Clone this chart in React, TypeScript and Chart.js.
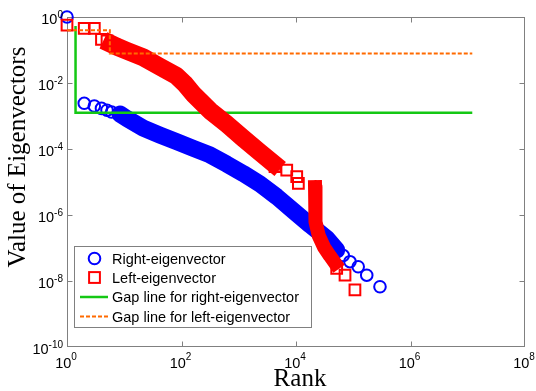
import React, { useEffect, useRef } from 'react';
import { Chart, registerables } from 'chart.js';
Chart.register(...registerables);

// Axis tick exponents (labels are 10^n)
const xTickExponents = [0, 2, 4, 6, 8];
const yTickExponents = [0, -2, -4, -6, -8, -10];

// Right-eigenvector: isolated markers
const rightRank = [1, 2, 3, 4, 5, 6, 8.4, 67000, 87700, 122000, 172000, 293000];
const rightValue = [1.0, 2.43e-3, 2.0e-3, 1.7e-3, 1.5e-3, 1.32e-3, 1.15e-3, 5.9e-8, 3.85e-8, 2.7e-8, 1.5e-8, 6.7e-9];
// Right-eigenvector: dense run of markers (centre line)
const rightBandRank = [8.4, 11, 21.5, 42, 82, 161, 315, 616, 1200, 2350, 4600, 8950, 17600, 34400, 51600];
const rightBandValue = [1.15e-3, 8.5e-4, 4.3e-4, 2.65e-4, 1.66e-4, 1.05e-4, 6.6e-5, 3.5e-5, 1.8e-5, 8.7e-6, 3.6e-6, 1.35e-6, 5.0e-7, 1.96e-7, 8.7e-8];

// Left-eigenvector: isolated markers
const leftRank = [1, 2, 3, 4, 5, 4300, 6890, 10300, 11000, 51400, 71800, 107000];
const leftValue = [0.57, 0.455, 0.455, 0.21, 0.19, 2.9e-5, 2.3e-5, 1.45e-5, 9.1e-6, 2.4e-8, 1.5e-8, 5.4e-9];
// Left-eigenvector: dense run of markers (centre line)
const leftBandRank = [6, 7.4, 11, 21.5, 42, 82, 115, 161, 315, 616, 1200, 2350, 4000];
const leftBandValue = [0.15, 0.126, 0.095, 0.06, 0.031, 0.0163, 9.3e-3, 4.6e-3, 1.45e-3, 5.7e-4, 2.1e-4, 7.9e-5, 3.7e-5];
// Left-eigenvector: steep tail
const leftTailRank = [21500, 21500, 22300, 25100, 30800, 39300, 48000];
const leftTailValue = [7.0e-6, 2.0e-6, 6.2e-7, 2.3e-7, 1.07e-7, 5.7e-8, 3.5e-8];

// Gap lines
const gapRightRank = [1.41, 1.41, 1.2e7];
const gapRightValue = [0.53, 1.26e-3, 1.26e-3];
const gapLeftRank = [1, 5.6, 5.6, 1.2e7];
const gapLeftValue = [0.4, 0.4, 0.079, 0.079];

const legendLabels = [
  'Right-eigenvector',
  'Left-eigenvector',
  'Gap line for right-eigenvector',
  'Gap line for left-eigenvector',
];
const xTitle = 'Rank';
const yTitle = 'Value of Eigenvectors';

const BLUE = '#0000ff';
const RED = '#ff0000';
const GREEN = '#14c814';
const ORANGE = '#ff6a00';
const SANS = "'Liberation Sans', Arial, sans-serif";
const SERIF = "'Liberation Serif', 'Times New Roman', serif";

const pts = (xs: number[], ys: number[]) => xs.map((x, i) => ({ x, y: ys[i] }));

const framePlugin = {
  id: 'frame',
  beforeDatasetsDraw(chart: any) {
    const { ctx, chartArea: a, scales } = chart;
    ctx.save();
    ctx.strokeStyle = '#808080';
    ctx.lineWidth = 1;
    const L = Math.round(a.left) + 0.5, R = Math.round(a.right) - 0.5;
    const T = Math.round(a.top) + 0.5, B = Math.round(a.bottom) - 0.5;
    ctx.strokeRect(L, T, R - L, B - T);
    ctx.beginPath();
    xTickExponents.forEach((e) => {
      const px = Math.round(scales.x.getPixelForValue(Math.pow(10, e))) + 0.5;
      if (px <= L + 1 || px >= R - 1) return;
      ctx.moveTo(px, B); ctx.lineTo(px, B - 5);
      ctx.moveTo(px, T); ctx.lineTo(px, T + 5);
    });
    yTickExponents.forEach((e) => {
      const py = Math.round(scales.y.getPixelForValue(Math.pow(10, e))) + 0.5;
      if (py <= T + 1 || py >= B - 1) return;
      ctx.moveTo(L, py); ctx.lineTo(L + 5, py);
      ctx.moveTo(R, py); ctx.lineTo(R - 5, py);
    });
    ctx.stroke();
    ctx.restore();
  },
  afterDraw(chart: any) {
    const { ctx, scales } = chart;
    ctx.save();
    ctx.fillStyle = '#000';
    ctx.textBaseline = 'alphabetic';
    const baseFont = `14.5px ${SANS}`;
    const expFont = `10px ${SANS}`;
    // y tick labels
    yTickExponents.forEach((e) => {
      const py = scales.y.getPixelForValue(Math.pow(10, e));
      const exp = String(e);
      ctx.font = expFont;
      const we = ctx.measureText(exp).width;
      ctx.textAlign = 'right';
      ctx.fillText(exp, 63, py + 0.5);
      ctx.font = baseFont;
      ctx.fillText('10', 63 - we, py + 6.5);
    });
    // x tick labels
    xTickExponents.forEach((e) => {
      const px = scales.x.getPixelForValue(Math.pow(10, e));
      const exp = String(e);
      ctx.font = baseFont;
      const wb = ctx.measureText('10').width;
      ctx.font = expFont;
      const we = ctx.measureText(exp).width;
      const start = px - 1 - (wb + we) / 2;
      ctx.textAlign = 'left';
      ctx.font = baseFont;
      ctx.fillText('10', start, 368);
      ctx.font = expFont;
      ctx.fillText(exp, start + wb, 360);
    });
    // titles
    ctx.font = `25px ${SERIF}`;
    ctx.textAlign = 'center';
    ctx.fillText(xTitle, 300, 385.5);
    ctx.save();
    ctx.translate(25, 157);
    ctx.rotate(-Math.PI / 2);
    ctx.fillText(yTitle, 0, 0);
    ctx.restore();

    // legend
    const lx = 74.5, ly = 246.5, lw = 237, lh = 81;
    ctx.fillStyle = '#fff';
    ctx.fillRect(lx, ly, lw, lh);
    ctx.strokeStyle = '#808080';
    ctx.lineWidth = 1;
    ctx.strokeRect(lx, ly, lw, lh);
    const rows = [258.5, 277.5, 297, 316.5];
    ctx.lineWidth = 2;
    ctx.strokeStyle = BLUE;
    ctx.beginPath();
    ctx.arc(94.5, rows[0], 5.8, 0, Math.PI * 2);
    ctx.stroke();
    ctx.strokeStyle = RED;
    ctx.strokeRect(94.5 - 5.4, rows[1] - 5.4, 10.8, 10.8);
    ctx.strokeStyle = GREEN;
    ctx.lineWidth = 2.5;
    ctx.beginPath();
    ctx.moveTo(80, rows[2]); ctx.lineTo(108, rows[2]);
    ctx.stroke();
    ctx.strokeStyle = ORANGE;
    ctx.lineWidth = 2;
    ctx.setLineDash([4, 2]);
    ctx.beginPath();
    ctx.moveTo(80, rows[3]); ctx.lineTo(108, rows[3]);
    ctx.stroke();
    ctx.setLineDash([]);
    ctx.fillStyle = '#000';
    ctx.font = baseFont;
    ctx.textAlign = 'left';
    ctx.textBaseline = 'middle';
    legendLabels.forEach((t, i) => ctx.fillText(t, 112, rows[i] + 1));
    ctx.restore();
  },
};

export default function App() {
  const ref = useRef<HTMLCanvasElement | null>(null);
  useEffect(() => {
    if (!ref.current) return;
    const chart = new Chart(ref.current, {
      type: 'scatter',
      data: {
        datasets: [
          {
            label: 'gapLeft',
            data: pts(gapLeftRank, gapLeftValue),
            showLine: true,
            borderColor: ORANGE,
            borderWidth: 2,
            borderDash: [4, 2],
            pointRadius: 0,
            order: 0,
            clip: false,
          } as any,
          {
            label: 'leftMarkers',
            data: pts(leftRank, leftValue),
            pointStyle: 'rect',
            pointRadius: 7.6,
            pointBorderWidth: 2,
            pointBorderColor: RED,
            pointBackgroundColor: 'rgba(0,0,0,0)',
            showLine: false,
            order: 1,
            clip: false,
          },
          {
            label: 'leftBand',
            data: pts(leftBandRank, leftBandValue),
            showLine: true,
            borderColor: RED,
            borderWidth: 18,
            borderJoinStyle: 'round',
            borderCapStyle: 'square',
            pointRadius: 0,
            order: 1,
            clip: false,
          },
          {
            label: 'leftTail',
            data: pts(leftTailRank, leftTailValue),
            showLine: true,
            borderColor: RED,
            borderWidth: 14,
            borderJoinStyle: 'round',
            borderCapStyle: 'square',
            pointRadius: 0,
            order: 1,
            clip: false,
          },
          {
            label: 'gapRight',
            data: pts(gapRightRank, gapRightValue),
            showLine: true,
            borderColor: GREEN,
            borderWidth: 2.5,
            pointRadius: 0,
            order: 2,
            clip: false,
          },
          {
            label: 'rightMarkers',
            data: pts(rightRank, rightValue),
            pointStyle: 'circle',
            pointRadius: 5.8,
            pointBorderWidth: 2,
            pointBorderColor: BLUE,
            pointBackgroundColor: 'rgba(0,0,0,0)',
            showLine: false,
            order: 3,
            clip: false,
          },
          {
            label: 'rightBand',
            data: pts(rightBandRank, rightBandValue),
            showLine: true,
            borderColor: BLUE,
            borderWidth: 17,
            borderJoinStyle: 'round',
            borderCapStyle: 'round',
            pointRadius: 0,
            order: 3,
            clip: false,
          },
        ],
      },
      options: {
        responsive: false,
        animation: false,
        events: [],
        devicePixelRatio: 1,
        layout: { padding: { left: 0, top: 17, right: 11, bottom: 0 } },
        plugins: { legend: { display: false }, tooltip: { enabled: false } },
        scales: {
          x: {
            type: 'logarithmic',
            min: 1,
            max: 1e8,
            grid: { display: false },
            border: { display: false },
            ticks: { display: false },
            afterFit: (s: any) => { s.height = 44; },
          },
          y: {
            type: 'logarithmic',
            min: 1e-10,
            max: 1,
            grid: { display: false },
            border: { display: false },
            ticks: { display: false },
            afterFit: (s: any) => { s.width = 67; },
          },
        },
      },
      plugins: [framePlugin],
    } as any);
    return () => chart.destroy();
  }, []);
  return (
    <div style={{ position: 'absolute', left: 0, top: 0, width: 536, height: 391, background: '#fff' }}>
      <canvas ref={ref} width={536} height={391} style={{ display: 'block' }} />
    </div>
  );
}
